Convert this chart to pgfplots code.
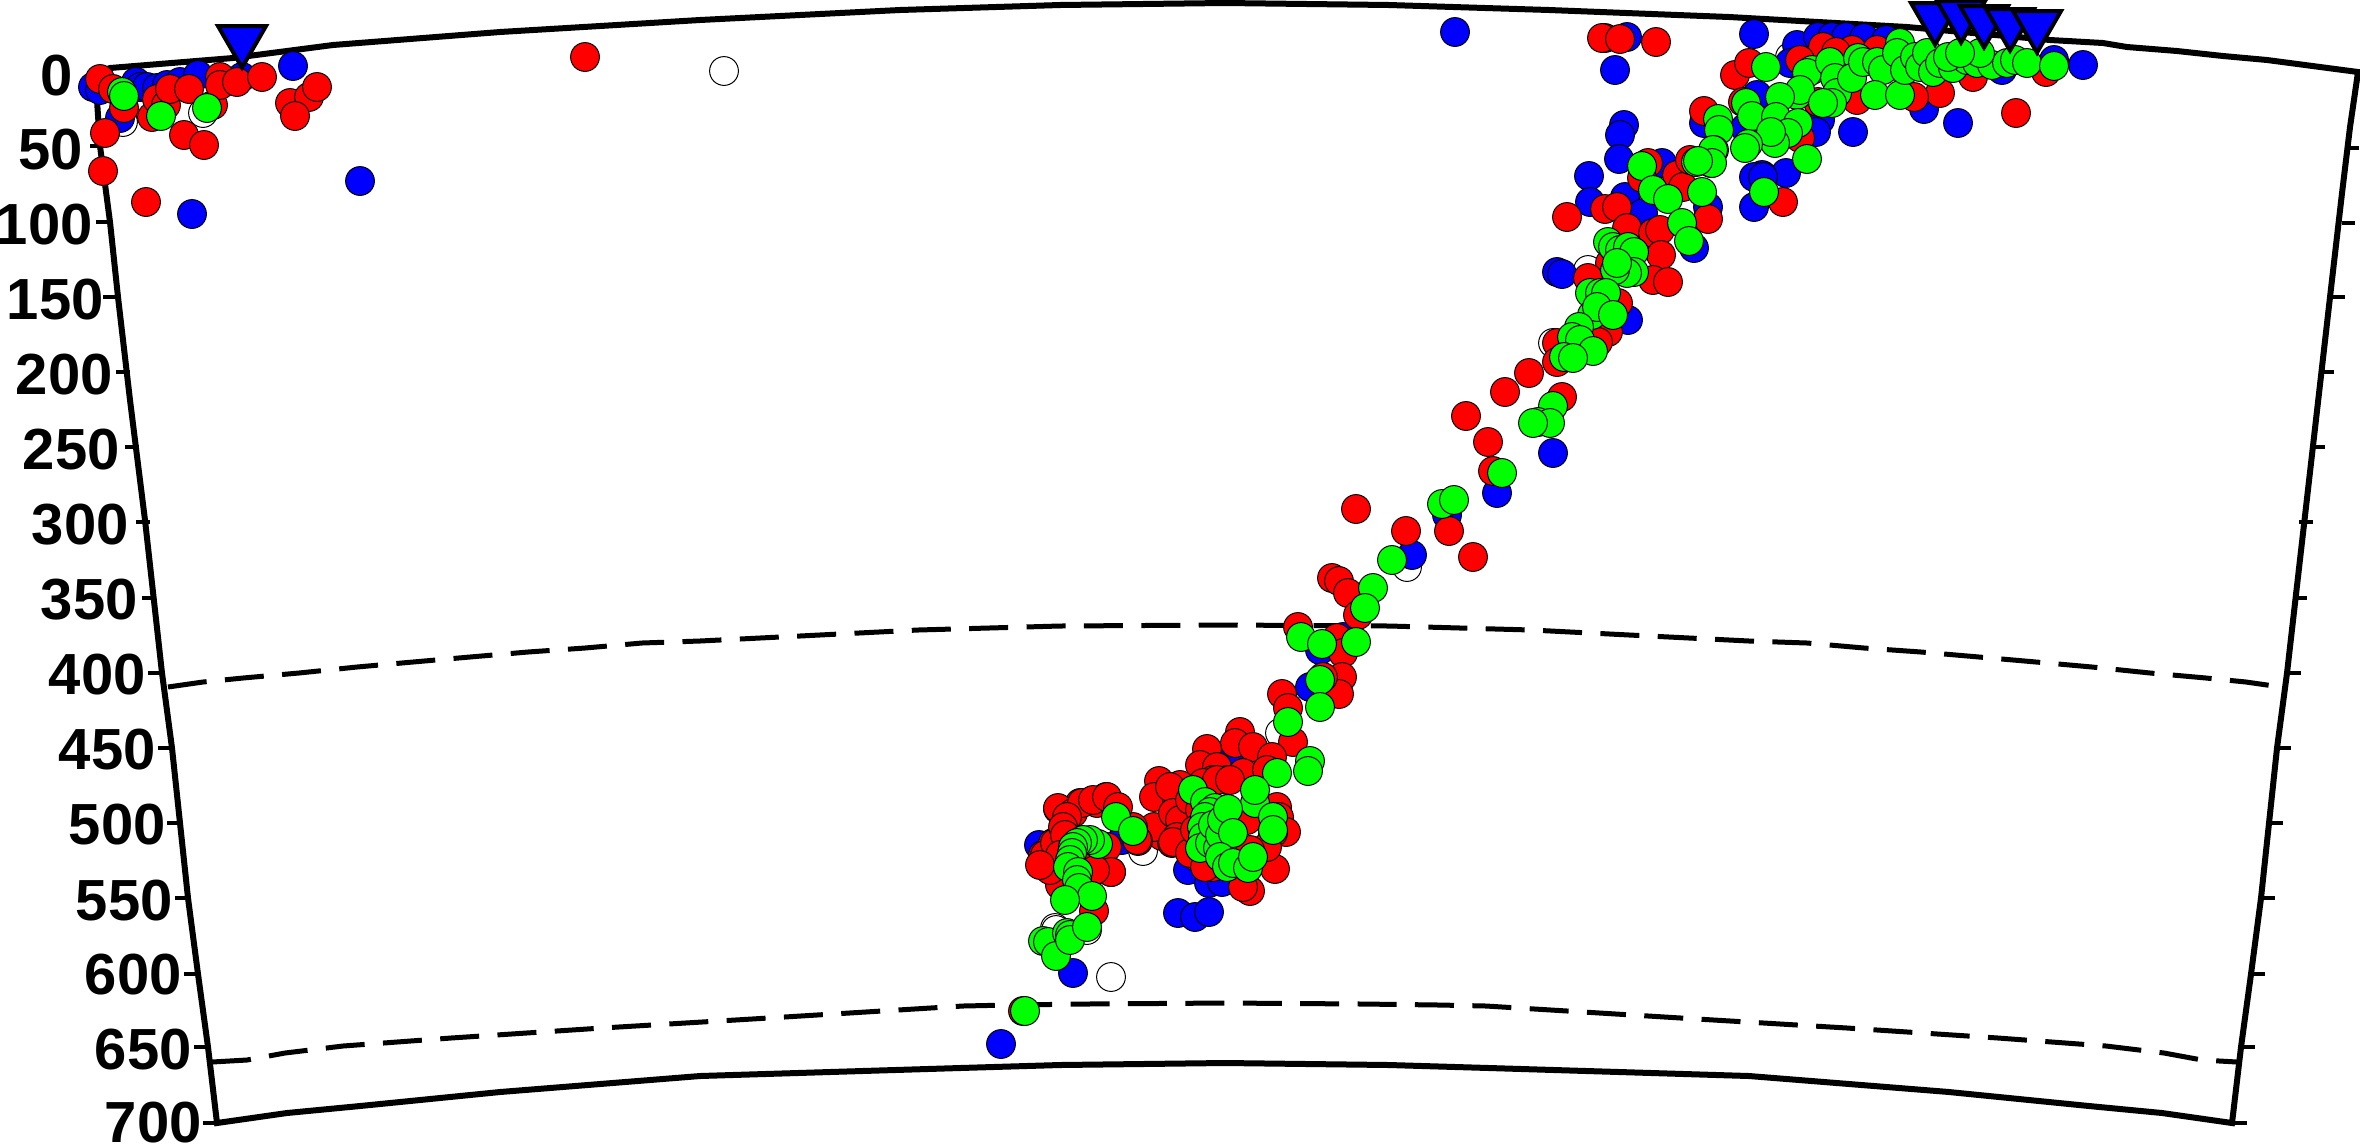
\documentclass[border=0pt]{standalone}
\usepackage{pgfplots}
\pgfplotsset{compat=1.18}
\usepackage{fontspec}
\setmainfont{Liberation Sans}
\pgfplotsset{
 dot/.style={only marks,mark=*,mark size=7.2pt,mark options={draw=black,line width=0.5pt,fill=#1}},
 frm/.style={no marks,black,line width=3pt,line join=miter},
 tk/.style={no marks,black,line width=2.4pt},
 dsh/.style={no marks,black,line width=2.5pt,dash pattern=on 19.5pt off 9.2pt},
}
\newcommand\tk[3]{\addplot[tk] coordinates {(#1,#3) (#2,#3)};}
\newcommand\lb[3]{\node[anchor=east,inner sep=0pt,font=\fontsize{29}{29}\selectfont\bfseries] at (axis cs:#1,#2) {#3};}
\begin{document}
\begin{tikzpicture}
\useasboundingbox (0,0) rectangle (1180pt,573.5pt);
\begin{axis}[at={(0,0)},anchor=south west,scale only axis,width=1180pt,height=573.5pt,
 xmin=0,xmax=2360,ymin=0,ymax=1147,y dir=reverse,axis lines=none,clip=false]
% frame
\addplot[frm] coordinates {(95,73) (110,68) (233,58) (333,45) (500,32) (700,20) (900,10) (1060,5) (1225,3) (1389,5) (1549,10) (1729,17) (1836,23) (1907,27) (2050,40) (2103,43) (2127,47) (2177,51) (2223,56) (2267,60) (2358,72) (2350,127) (2342,193) (2330,297) (2287,673) (2277,748) (2269,823) (2261,898) (2251,974) (2241,1047) (2232,1123) (2162,1113) (2089,1106) (1949,1092) (1749,1076) (1489,1068) (1389,1065) (1225,1063) (1060,1065) (960,1068) (700,1076) (500,1092) (360,1106) (287,1113) (217,1123) (208,1047) (198,974) (188,898) (180,823) (172,748) (162,673) (145,520) (130,400) (118,297) (110,222) (100,146) (97,100) (95,73)};
% ticks
\tk{90}{102}{146}\tk{96}{110}{222}\tk{103}{120}{297}\tk{116}{130}{372}\tk{125}{139}{447}\tk{136}{150}{522}\tk{142}{156}{598}
\tk{148}{162}{673}\tk{158}{172}{748}\tk{167}{180}{823}\tk{175}{188}{898}\tk{184}{198}{974}\tk{194}{208}{1047}\tk{203}{217}{1123}
\tk{2350}{2359}{148}\tk{2342}{2355}{223}\tk{2330}{2345}{297}\tk{2320}{2334}{372}\tk{2311}{2325}{447}\tk{2299}{2313}{522}\tk{2293}{2307}{598}
\tk{2287}{2301}{673}\tk{2277}{2291}{748}\tk{2269}{2283}{823}\tk{2261}{2275}{898}\tk{2251}{2265}{974}\tk{2241}{2255}{1047}\tk{2232}{2247}{1123}
% labels
\lb{73}{76}{0}\lb{83}{150}{50}\lb{93}{225}{100}\lb{104}{300}{150}\lb{113}{375}{200}\lb{120}{450}{250}\lb{129}{525}{300}\lb{138}{600}{350}
\lb{146}{675}{400}\lb{156}{750}{450}\lb{166}{825}{500}\lb{173}{901}{550}\lb{182}{975}{600}\lb{192}{1050}{650}\lb{202}{1123}{700}
% discontinuities
\addplot[dsh] coordinates {(168,687) (203,682) (243,678) (299,673) (357,667) (413,662) (470,657) (528,652) (585,648) (642,643) (700,641) (800,636) (918,630) (1060,626) (1225,625) (1389,626) (1531,630) (1649,636) (1749,641) (1807,643) (1864,648) (1921,652) (1979,657) (2036,662) (2092,667) (2150,673) (2206,678) (2246,682) (2281,687)};
\addplot[dsh] coordinates {(212,1062) (247,1060) (285,1053) (343,1046) (451,1038) (602,1028) (752,1019) (963,1006) (1010,1005) (1087,1004) (1225,1003) (1362,1004) (1439,1005) (1486,1006) (1697,1019) (1847,1028) (1998,1038) (2106,1046) (2164,1053) (2202,1060) (2237,1062)};
% white
\addplot[dot=white] coordinates {(123,122) (203,113) (724,71) (1553,343) (1588,270) (1143,851) (1280,733) (1055,928) (1407,567) (1111,977) (1056,930) (1087,930) (1790,57)};
% blue
\addplot[dot=blue] coordinates {(93,87) (100,90) (136,82) (140,87) (147,87) (157,88) (167,85) (180,82) (198,75) (242,77) (293,66) (120,118) (360,181) (192,214) (1455,32) (1627,37) (1615,70) (1754,34) (1853,132) (1924,109) (1958,123) (2083,65) (2054,60) (2002,70) (1820,120) (1816,132) (1757,95) (1745,128) (1797,45) (1818,37) (1832,37) (1846,37) (1864,38) (1886,40) (1790,63) (1704,123) (1786,173) (1762,175) (1754,177) (1754,207) (1624,125) (1620,135) (1589,176) (1590,202) (1619,159) (1625,197) (1643,213) (1662,163) (1557,272) (1562,274) (1694,248) (1628,320) (1763,177) (1708,207) (1553,453) (1497,493) (1447,515) (1412,555) (1343,637) (1320,650) (1310,687) (1039,845) (1188,870) (1209,883) (1222,882) (1178,913) (1195,917) (1209,912) (1233,758) (1122,840) (1073,973) (1001,1044)};
% red
\addplot[dot=red] coordinates {(100,79) (113,89) (124,108) (105,133) (103,171) (146,202) (152,117) (157,99) (166,105) (170,89) (189,89) (213,105) (220,77) (220,85) (237,82) (262,77) (290,103) (309,97) (317,87) (295,116) (184,135) (204,145) (585,57) (1605,38) (1602,38) (1620,39) (1656,42) (1735,75) (1749,63) (1704,111) (1940,93) (2016,113) (2046,72) (1973,77) (1914,97) (1857,100) (1818,102) (1823,47) (1852,50) (1877,50) (1836,52) (1743,102) (1800,138) (1800,60) (1567,217) (1605,209) (1617,207) (1648,163) (1642,178) (1677,175) (1683,187) (1690,160) (1708,219) (1627,228) (1653,233) (1660,230) (1661,255) (1653,280) (1668,282) (1610,263) (1588,278) (1618,303) (1608,332) (1557,343) (1598,342) (1557,362) (1529,373) (1505,392) (1466,416) (1562,397) (1783,202) (1356,509) (1406,531) (1449,531) (1473,557) (1488,442) (1493,471) (1332,578) (1339,581) (1348,593) (1358,615) (1298,627) (1337,638) (1343,653) (1342,677) (1339,694) (1323,677) (1282,694) (1288,708) (1293,742) (1240,732) (1235,743) (1253,747) (1272,757) (1207,749) (1200,765) (1217,767) (1159,781) (1154,797) (1180,785) (1243,773) (1267,770) (1227,780) (1213,780) (1277,807) (1279,817) (1286,832) (1273,833) (1275,869) (1250,891) (1253,853) (1177,800) (1185,817) (1178,837) (1162,836) (1172,843) (1154,827) (1138,841) (1133,827) (1058,809) (1106,797) (1080,803) (1115,807) (1097,803) (1067,820) (1043,855) (1053,843) (1111,872) (1107,847) (1060,883) (1094,911) (1197,857) (1213,867) (1023,1011) (1058,808) (1073,813) (1082,803) (1093,800) (1107,797) (1118,807) (1045,855) (1055,843) (1067,817) (1063,827) (1111,872) (1137,840) (1060,885) (1170,787) (1173,813) (1180,820) (1177,837) (1173,842) (1190,853) (1205,867) (1203,783) (1217,780) (1230,780) (1247,820) (1267,847) (1250,850) (1243,887) (1075,850) (1085,860) (1095,870) (1065,835) (1190,800) (1200,810) (1195,830) (1050,870) (1060,855) (1040,865)};
% green
\addplot[dot=green] coordinates {(122,92) (124,96) (161,116) (207,108) (1766,67) (1797,95) (1812,70) (1807,73) (1800,90) (1780,97) (1830,62) (1835,78) (1837,93) (1832,103) (1823,103) (1858,58) (1852,78) (1863,62) (1877,62) (1883,70) (1875,95) (1900,95) (1900,43) (1897,53) (1905,70) (1915,57) (1920,67) (1927,53) (1933,72) (1940,63) (1953,68) (1967,60) (1977,63) (1992,65) (2007,63) (2015,60) (1948,57) (1980,53) (1960,53) (2027,63) (2054,66) (1746,103) (1752,116) (1776,117) (1798,123) (1788,133) (1775,143) (1771,132) (1748,144) (1745,148) (1807,159) (1718,119) (1719,130) (1714,150) (1711,163) (1696,162) (1764,192) (1713,150) (1712,163) (1698,161) (1642,166) (1653,190) (1668,199) (1702,192) (1682,223) (1689,241) (1608,242) (1613,247) (1620,250) (1628,247) (1634,252) (1634,272) (1627,273) (1615,270) (1617,263) (1590,293) (1600,293) (1606,293) (1592,315) (1597,307) (1613,315) (1579,327) (1572,337) (1580,340) (1593,351) (1564,357) (1573,358) (1553,406) (1538,422) (1550,423) (1533,423) (1502,473) (1442,504) (1454,500) (1392,560) (1373,588) (1365,608) (1301,637) (1322,644) (1356,642) (1320,680) (1320,707) (1288,722) (1310,761) (1308,771) (1277,773) (1255,803) (1255,790) (1273,817) (1273,830) (1193,790) (1205,802) (1215,808) (1210,812) (1205,817) (1202,827) (1203,837) (1200,848) (1210,843) (1218,848) (1213,825) (1220,835) (1222,820) (1228,809) (1233,833) (1220,857) (1227,867) (1233,863) (1248,868) (1253,857) (1116,817) (1133,831) (1098,844) (1090,840) (1083,840) (1077,843) (1073,847) (1072,853) (1070,860) (1068,867) (1078,872) (1077,880) (1079,888) (1092,896) (1065,900) (1043,941) (1048,942) (1056,956) (1067,933) (1070,935) (1070,940) (1087,927) (1025,1011)};
% stations
\addplot[only marks,mark=triangle*,mark size=13.8pt,mark options={rotate=180,draw=black,fill=blue,line width=2pt,line join=miter,miter limit=10}] coordinates {(242,40) (1935,17) (1961,15) (1984,20) (2010,23) (2037,25)};
\end{axis}
\end{tikzpicture}
\end{document}
